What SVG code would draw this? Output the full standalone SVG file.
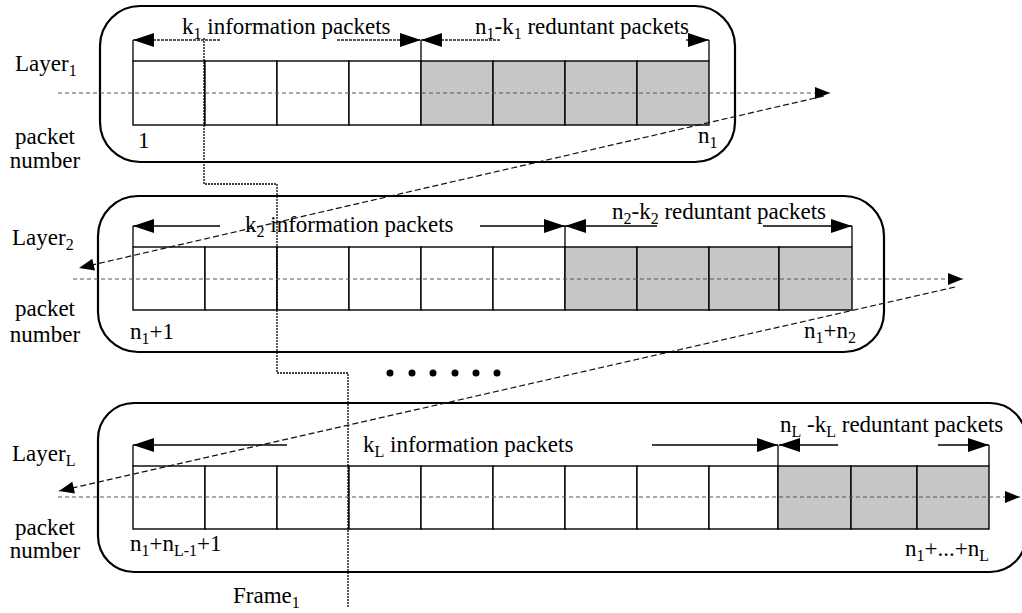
<svg xmlns="http://www.w3.org/2000/svg" width="1022" height="613" viewBox="0 0 1022 613">
<defs>
<marker id="dimArrow" markerUnits="userSpaceOnUse" markerWidth="22" markerHeight="14" refX="21" refY="7" orient="auto" overflow="visible">
<path d="M0,0 L21,7 L0,14 z" fill="#000" stroke="none"/>
</marker>
<marker id="flowArrow" markerUnits="userSpaceOnUse" markerWidth="16" markerHeight="12" refX="15" refY="6" orient="auto" overflow="visible">
<path d="M0,0 L15,6 L0,12 z" fill="#000" stroke="none"/>
</marker>
</defs>
<style>
text{font-family:"Liberation Serif","Times New Roman",serif;font-size:23px;fill:#000}
.sub{font-size:16px}
.block{fill:none;stroke:#000;stroke-width:2.2}
.cell{fill:#fff;stroke:#000;stroke-width:1.4}
.red{fill:#c6c6c6;stroke:#000;stroke-width:1.4}
.dim{stroke:#000;stroke-width:1.3;fill:none;marker-end:url(#dimArrow)}
.dimd{stroke:#222;stroke-width:1.3;stroke-dasharray:3 1;fill:none;marker-end:url(#dimArrow)}
.tick{stroke:#000;stroke-width:1.3}
.scan{stroke:#555;stroke-width:1;stroke-dasharray:4 3;fill:none;marker-end:url(#flowArrow)}
.diag{stroke:#111;stroke-width:1.2;stroke-dasharray:6 3;fill:none;marker-end:url(#flowArrow)}
.frame{stroke:#000;stroke-width:1.3;stroke-dasharray:2 1;fill:none}
</style>

<g id="layer1">
<rect class="block" x="100" y="6" width="635" height="156" rx="40" ry="40"/>
<rect class="cell" x="133" y="61" width="72" height="64"/>
<rect class="cell" x="205" y="61" width="72" height="64"/>
<rect class="cell" x="277" y="61" width="72" height="64"/>
<rect class="cell" x="349" y="61" width="72" height="64"/>
<rect class="red" x="421" y="61" width="72" height="64"/>
<rect class="red" x="493" y="61" width="72" height="64"/>
<rect class="red" x="565" y="61" width="72" height="64"/>
<rect class="red" x="637" y="61" width="72" height="64"/>
<line class="tick" x1="133" y1="40" x2="133" y2="61"/>
<line class="tick" x1="421" y1="40" x2="421" y2="61"/>
<line class="tick" x1="709" y1="40" x2="709" y2="61"/>
<line class="dimd" x1="220" y1="40" x2="133" y2="40"/>
<line class="dimd" x1="337" y1="40" x2="421" y2="40"/>
<line class="dimd" x1="500" y1="40" x2="421" y2="40"/>
<line class="dimd" x1="686" y1="40" x2="709" y2="40"/>
<text x="182" y="34">k<tspan class="sub" dy="5">1</tspan><tspan dy="-5"> information packets</tspan></text>
<text x="475" y="34">n<tspan class="sub" dy="5">1</tspan><tspan dy="-5">-k</tspan><tspan class="sub" dy="5">1</tspan><tspan dy="-5"> reduntant packets</tspan></text>
<text x="15" y="71">Layer<tspan class="sub" dy="5">1</tspan></text>
<text x="45" y="144" text-anchor="middle">packet</text>
<text x="45" y="168" text-anchor="middle">number</text>
<text x="138" y="148">1</text>
<text x="698" y="143">n<tspan class="sub" dy="5">1</tspan></text>
</g>

<g id="layer2">
<rect class="block" x="98" y="196" width="786" height="156" rx="40" ry="40"/>
<rect class="cell" x="133" y="247" width="72" height="63"/>
<rect class="cell" x="205" y="247" width="72" height="63"/>
<rect class="cell" x="277" y="247" width="72" height="63"/>
<rect class="cell" x="349" y="247" width="72" height="63"/>
<rect class="cell" x="421" y="247" width="72" height="63"/>
<rect class="cell" x="493" y="247" width="72" height="63"/>
<rect class="red" x="565" y="247" width="72" height="63"/>
<rect class="red" x="637" y="247" width="72" height="63"/>
<rect class="red" x="709" y="247" width="70" height="63"/>
<rect class="red" x="779" y="247" width="73" height="63"/>
<line class="tick" x1="133" y1="226" x2="133" y2="247"/>
<line class="tick" x1="565" y1="226" x2="565" y2="247"/>
<line class="tick" x1="852" y1="226" x2="852" y2="247"/>
<line class="dim" x1="220" y1="226" x2="133" y2="226"/>
<line class="dim" x1="480" y1="226" x2="565" y2="226"/>
<line class="dim" x1="657" y1="226" x2="565" y2="226"/>
<line class="dim" x1="763" y1="226" x2="852" y2="226"/>
<text x="245" y="232">k<tspan class="sub" dy="5">2</tspan><tspan dy="-5"> information packets</tspan></text>
<text x="612" y="219">n<tspan class="sub" dy="5">2</tspan><tspan dy="-5">-k</tspan><tspan class="sub" dy="5">2</tspan><tspan dy="-5"> reduntant packets</tspan></text>
<text x="12" y="245">Layer<tspan class="sub" dy="5">2</tspan></text>
<text x="45" y="316" text-anchor="middle">packet</text>
<text x="45" y="342" text-anchor="middle">number</text>
<text x="130" y="339">n<tspan class="sub" dy="5">1</tspan><tspan dy="-5">+1</tspan></text>
<text x="804" y="338">n<tspan class="sub" dy="5">1</tspan><tspan dy="-5">+n</tspan><tspan class="sub" dy="5">2</tspan></text>
</g>

<g id="ellipsis">
<circle cx="390" cy="373" r="3.5"/>
<circle cx="412" cy="373" r="3.5"/>
<circle cx="433" cy="373" r="3.5"/>
<circle cx="455" cy="373" r="3.5"/>
<circle cx="476" cy="373" r="3.5"/>
<circle cx="497" cy="373" r="3.5"/>
</g>

<g id="layerL">
<rect class="block" x="98" y="403" width="928" height="169" rx="36" ry="36"/>
<rect class="cell" x="133" y="466" width="72" height="63"/>
<rect class="cell" x="205" y="466" width="72" height="63"/>
<rect class="cell" x="277" y="466" width="72" height="63"/>
<rect class="cell" x="349" y="466" width="72" height="63"/>
<rect class="cell" x="421" y="466" width="72" height="63"/>
<rect class="cell" x="493" y="466" width="72" height="63"/>
<rect class="cell" x="565" y="466" width="72" height="63"/>
<rect class="cell" x="637" y="466" width="72" height="63"/>
<rect class="cell" x="709" y="466" width="69" height="63"/>
<rect class="red" x="778" y="466" width="73" height="63"/>
<rect class="red" x="851" y="466" width="66" height="63"/>
<rect class="red" x="917" y="466" width="72" height="63"/>
<line class="tick" x1="133" y1="445" x2="133" y2="466"/>
<line class="tick" x1="778" y1="445" x2="778" y2="466"/>
<line class="tick" x1="989" y1="445" x2="989" y2="466"/>
<line class="dim" x1="287" y1="445" x2="133" y2="445"/>
<line class="dim" x1="652" y1="445" x2="778" y2="445"/>
<line class="dim" x1="838" y1="445" x2="779" y2="445"/>
<line class="dim" x1="938" y1="445" x2="989" y2="445"/>
<text x="363" y="452">k<tspan class="sub" dy="5">L</tspan><tspan dy="-5"> information packets</tspan></text>
<text x="780" y="432">n<tspan class="sub" dy="5">L</tspan><tspan dy="-5"> -k</tspan><tspan class="sub" dy="5">L</tspan><tspan dy="-5"> reduntant packets</tspan></text>
<text x="12" y="461">Layer<tspan class="sub" dy="5">L</tspan></text>
<text x="45" y="535" text-anchor="middle">packet</text>
<text x="45" y="558" text-anchor="middle">number</text>
<text x="130" y="551">n<tspan class="sub" dy="5">1</tspan><tspan dy="-5">+n</tspan><tspan class="sub" dy="5">L-1</tspan><tspan dy="-5">+1</tspan></text>
<text x="905" y="556">n<tspan class="sub" dy="5">1</tspan><tspan dy="-5">+...+n</tspan><tspan class="sub" dy="5">L</tspan></text>
</g>

<g id="frame">
<polyline class="frame" points="204,38 204,184 277,184 277,373 348,373 348,608"/>
<text x="233" y="603">Frame<tspan class="sub" dy="5">1</tspan></text>
</g>

<g id="connectors">
<line class="scan" x1="58" y1="93" x2="830" y2="93"/>
<line class="scan" x1="73" y1="279" x2="963" y2="279"/>
<line class="scan" x1="58" y1="497" x2="1020" y2="497"/>
<line class="diag" x1="824" y1="96" x2="79" y2="268"/>
<line class="diag" x1="955" y1="287" x2="59" y2="491"/>
</g>
</svg>
